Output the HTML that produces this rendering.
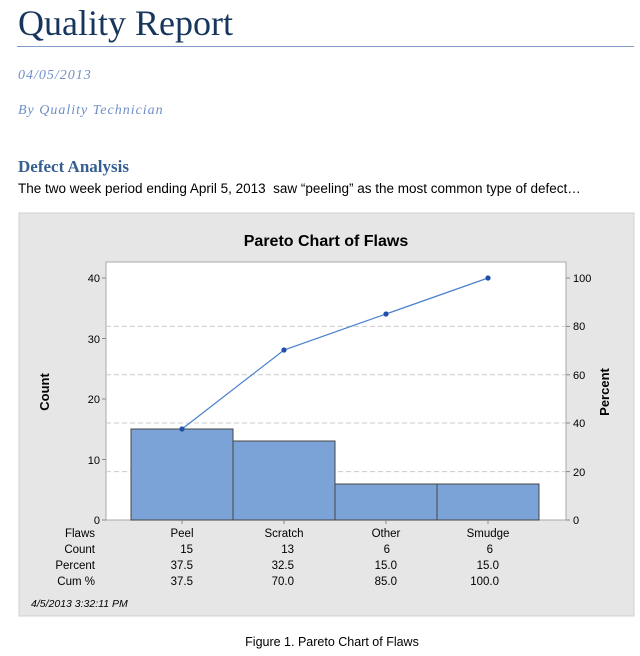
<!DOCTYPE html>
<html><head><style>
body{margin:0;width:640px;height:656px;background:#fff;position:relative;overflow:hidden;font-family:"Liberation Sans",sans-serif}
.t{position:absolute;white-space:nowrap}
</style></head><body>
<div class="t" style="left:18px;top:2px;font-family:'Liberation Serif',serif;font-size:36px;color:#17365d;">Quality Report</div>
<div style="position:absolute;left:17px;top:46px;width:617px;height:1px;background:#7f9cc8"></div>
<div class="t" style="left:18px;top:68px;font-family:'Liberation Serif',serif;font-style:italic;font-size:14px;color:#6f8fc7;letter-spacing:1px">04/05/2013</div>
<div class="t" style="left:18px;top:103px;font-family:'Liberation Serif',serif;font-style:italic;font-size:14px;color:#6f8fc7;letter-spacing:1px">By Quality Technician</div>
<div class="t" style="left:18px;top:157px;font-family:'Liberation Serif',serif;font-weight:bold;font-size:17px;color:#365f91">Defect Analysis</div>
<div class="t" style="left:18px;top:181px;font-size:13.5px;color:#000;">The two week period ending April 5, 2013&nbsp; saw “peeling” as the most common type of defect…</div>
<svg style="position:absolute;left:0;top:0" width="640" height="656" font-family="Liberation Sans, sans-serif">
<rect x="19" y="213" width="615" height="403" fill="#e6e6e6" stroke="#d0d0d0"/>
<text x="326" y="246" font-size="16" font-weight="bold" text-anchor="middle">Pareto Chart of Flaws</text>
<rect x="106" y="262" width="460" height="258" fill="#fff" stroke="#aaa"/>
<g stroke="#ccc" stroke-dasharray="5,3">
<line x1="106" y1="471.6" x2="566" y2="471.6"/><line x1="106" y1="423" x2="566" y2="423"/><line x1="106" y1="374.8" x2="566" y2="374.8"/><line x1="106" y1="326.4" x2="566" y2="326.4"/>
</g>
<g fill="#7ba3d8" stroke="#444" stroke-width="1">
<rect x="131" y="429" width="102" height="91"/><rect x="233" y="441" width="102" height="79"/><rect x="335" y="484" width="102" height="36"/><rect x="437" y="484" width="102" height="36"/>
</g>
<polyline points="182,429 284,350 386,314 488,278" fill="none" stroke="#4a80cc" stroke-width="1.2"/>
<g fill="#1f4fa8"><circle cx="182" cy="429" r="2.6"/><circle cx="284" cy="350" r="2.6"/><circle cx="386" cy="314" r="2.6"/><circle cx="488" cy="278" r="2.6"/></g>
<g font-size="11" text-anchor="end">
<text x="100" y="524">0</text><text x="100" y="464">10</text><text x="100" y="403">20</text><text x="100" y="343">30</text><text x="100" y="282">40</text>
</g>
<g stroke="#888"><line x1="102" y1="520" x2="106" y2="520"/><line x1="102" y1="459.5" x2="106" y2="459.5"/><line x1="102" y1="399" x2="106" y2="399"/><line x1="102" y1="338.5" x2="106" y2="338.5"/><line x1="102" y1="278" x2="106" y2="278"/>
<line x1="566" y1="520" x2="570" y2="520"/><line x1="566" y1="471.6" x2="570" y2="471.6"/><line x1="566" y1="423" x2="570" y2="423"/><line x1="566" y1="374.8" x2="570" y2="374.8"/><line x1="566" y1="326.4" x2="570" y2="326.4"/><line x1="566" y1="278" x2="570" y2="278"/>
<line x1="182" y1="520" x2="182" y2="524"/><line x1="284" y1="520" x2="284" y2="524"/><line x1="386" y1="520" x2="386" y2="524"/><line x1="488" y1="520" x2="488" y2="524"/></g>
<g font-size="11"><text x="573" y="524">0</text><text x="573" y="476">20</text><text x="573" y="427">40</text><text x="573" y="379">60</text><text x="573" y="330">80</text><text x="573" y="282">100</text></g>
<text transform="translate(49,392) rotate(-90)" font-size="13" font-weight="bold" text-anchor="middle">Count</text>
<text transform="translate(609,392) rotate(-90)" font-size="13" font-weight="bold" text-anchor="middle">Percent</text>
<g font-size="11.5" text-anchor="end">
<text x="95" y="537">Flaws</text><text x="95" y="553">Count</text><text x="95" y="569">Percent</text><text x="95" y="585">Cum %</text>
</g>
<g font-size="11.5" text-anchor="middle">
<text x="182" y="537">Peel</text><text x="284" y="537">Scratch</text><text x="386" y="537">Other</text><text x="488" y="537">Smudge</text>
</g>
<g font-size="11.5" text-anchor="end">
<text x="193" y="553">15</text><text x="294" y="553">13</text><text x="390" y="553">6</text><text x="493" y="553">6</text>
<text x="193" y="569">37.5</text><text x="294" y="569">32.5</text><text x="397" y="569">15.0</text><text x="499" y="569">15.0</text>
<text x="193" y="585">37.5</text><text x="294" y="585">70.0</text><text x="397" y="585">85.0</text><text x="499" y="585">100.0</text>
</g>
<text x="31" y="607" font-size="10.5" font-style="italic">4/5/2013 3:32:11 PM</text>
<text x="332" y="646" font-size="12.5" text-anchor="middle">Figure 1. Pareto Chart of Flaws</text>
</svg>
</body></html>
